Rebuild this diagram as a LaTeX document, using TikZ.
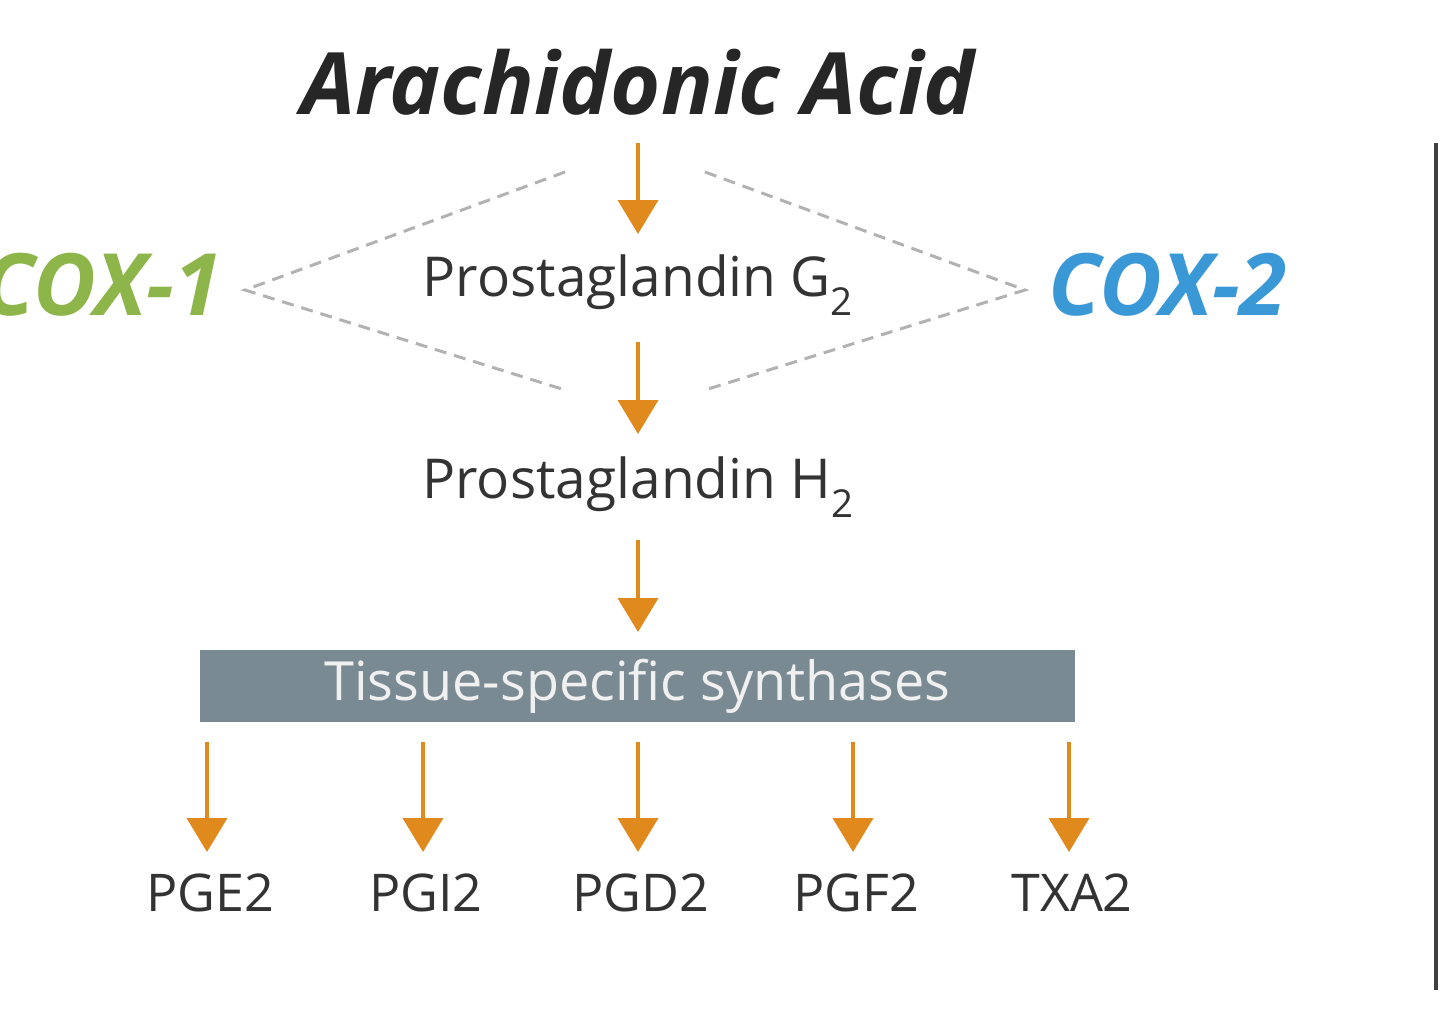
\documentclass[tikz,border=0pt]{standalone}
\usepackage{fontspec}
\setmainfont{Open Sans}
\usetikzlibrary{arrows.meta}
\definecolor{org}{HTML}{E08A1E}
\definecolor{cgreen}{HTML}{8DB54A}
\definecolor{cblue}{HTML}{3A98D6}
\definecolor{boxg}{HTML}{7A8A93}
\definecolor{txt}{HTML}{333333}
\begin{document}
\begin{tikzpicture}[x=1pt,y=-1pt,
  arr/.style={draw=org,line width=4pt,-{Triangle[length=34pt,width=40pt]}},
  dsh/.style={draw=gray!60,line width=3pt,dash pattern=on 12pt off 8pt},
  lbl/.style={text=txt,font=\fontsize{52}{58}\selectfont,inner sep=0pt},
  cox/.style={font=\fontsize{86}{96}\selectfont\bfseries\itshape,inner sep=0pt}]
\useasboundingbox (0,0) rectangle (1440,1009);
\node[font=\fontsize{86}{96}\selectfont\bfseries\itshape,text=black!85,inner sep=0pt] (aa) at (638,82) {Arachidonic Acid};
\node[lbl,font=\fontsize{55}{60}\selectfont] (pg) at (638,285) {Prostaglandin G\textsubscript{2}};
\node[lbl,font=\fontsize{55}{60}\selectfont] (ph) at (638,487) {Prostaglandin H\textsubscript{2}};
\node[cox,text=cgreen,anchor=east] (c1) at (222,285) {COX-1};
\node[cox,text=cblue,anchor=west] (c2) at (1048,285) {COX-2};
\coordinate (l) at (245,290); \coordinate (r) at (1025,290);
\coordinate (lt) at (565,172); \coordinate (lb) at (565,390);
\coordinate (rt) at (705,172); \coordinate (rb) at (705,390);
\draw[dsh] (lt) -- (l) -- (lb);
\draw[dsh] (rt) -- (r) -- (rb);
\coordinate (a1) at (638,143); \coordinate (a2) at (638,234);
\coordinate (b1) at (638,342); \coordinate (b2) at (638,434);
\coordinate (d1) at (638,540); \coordinate (d2) at (638,632);
\draw[arr] (a1) -- (a2);
\draw[arr] (b1) -- (b2);
\draw[arr] (d1) -- (d2);
\node[fill=boxg,minimum width=875pt,minimum height=72pt,inner sep=0pt,text=white!88!gray,font=\fontsize{54}{60}\selectfont] (ts) at (637.5,686) {Tissue-specific synthases};
\foreach \x/\t/\n in {207/PGE2/e,423/PGI2/i,638/PGD2/d,853/PGF2/f,1069/TXA2/t}{
  \coordinate (s\n) at (\x,742); \coordinate (f\n) at (\x,852);
  \draw[arr] (s\n) -- (f\n);
  \node[lbl] (p\n) at (\x+3,893) {\t};
}
\coordinate (v1) at (1436,143); \coordinate (v2) at (1436,990);
\draw[line width=4pt,black!75] (v1) -- (v2);
\end{tikzpicture}
\end{document}
